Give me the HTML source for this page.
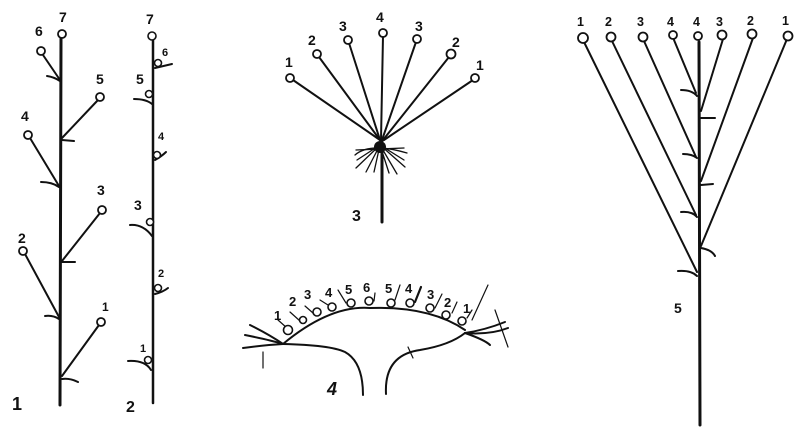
<!DOCTYPE html>
<html><head><meta charset="utf-8"><style>
html,body{margin:0;padding:0;background:#fff;width:804px;height:436px;overflow:hidden}
text{font-family:"Liberation Sans",sans-serif;font-weight:bold;fill:#111}
</style></head><body>
<svg width="804" height="436" viewBox="0 0 804 436" xmlns="http://www.w3.org/2000/svg">
<g stroke="#111" fill="none" stroke-linecap="round">
<!-- Fig 1 -->
<line x1="61" y1="38" x2="60" y2="405" stroke-width="3"/>
<g stroke-width="2">
<line x1="43" y1="55" x2="60" y2="80"/><path d="M47 76 Q54 77 60 81"/>
<line x1="98" y1="100" x2="62" y2="138"/><path d="M62 140 L74 141"/>
<line x1="30" y1="138" x2="59" y2="186"/><path d="M41 182 Q52 182 59 187"/>
<line x1="100" y1="213" x2="62" y2="261"/><path d="M62 262 L75 262"/>
<line x1="25" y1="254" x2="59" y2="317"/><path d="M45 316 Q53 315 59 319"/>
<line x1="99" y1="325" x2="62" y2="376"/><path d="M62 379 Q70 378 78 382"/>
</g>
<g stroke-width="1.8" fill="#fff">
<circle cx="62" cy="34" r="4"/><circle cx="41" cy="51" r="4"/><circle cx="100" cy="97" r="4"/>
<circle cx="28" cy="135" r="4"/><circle cx="102" cy="210" r="4"/><circle cx="23" cy="251" r="4"/><circle cx="101" cy="322" r="4"/>
</g>
<!-- Fig 2 -->
<line x1="153" y1="38" x2="153" y2="403" stroke-width="2.5"/>
<g stroke-width="2">
<path d="M155 68 L172 64"/><path d="M134 99 Q146 99 152 104"/>
<path d="M155 160 Q162 156 166 152"/><path d="M130 225 Q143 224 152 236"/>
<path d="M155 294 Q163 292 168 288"/><path d="M128 361 Q145 360 151 370"/>
</g>
<g stroke-width="1.6" fill="#fff">
<circle cx="152" cy="36" r="4"/><circle cx="158" cy="63" r="3.5"/><circle cx="149" cy="94" r="3.5"/>
<circle cx="157" cy="155" r="3.5"/><circle cx="150" cy="222" r="3.5"/><circle cx="158" cy="288" r="3.5"/><circle cx="148" cy="360" r="3.5"/>
</g>
<!-- Fig 3 -->
<g stroke-width="2">
<line x1="293" y1="80" x2="380" y2="140"/><line x1="319" y1="57" x2="380" y2="140"/>
<line x1="349" y1="43" x2="380" y2="140"/><line x1="383" y1="36" x2="381" y2="140"/>
<line x1="416" y1="42" x2="382" y2="140"/><line x1="449" y1="57" x2="383" y2="140"/>
<line x1="473" y1="80" x2="384" y2="140"/>
<line x1="382" y1="140" x2="382" y2="222" stroke-width="3"/>
</g>
<g stroke-width="1.3">
<path d="M356 150 L404 148"/><path d="M357 160 L380 145 L404 160"/><path d="M356 168 L380 145 L405 167"/>
<path d="M366 172 L380 145 L397 174"/><path d="M374 172 L380 145 L389 173"/><path d="M355 155 Q370 142 407 153"/>
</g>
<circle cx="380" cy="147" r="6" fill="#111" stroke="none"/>
<g stroke-width="1.8" fill="#fff">
<circle cx="290" cy="78" r="4"/><circle cx="317" cy="54" r="4"/><circle cx="348" cy="40" r="4"/>
<circle cx="383" cy="33" r="4"/><circle cx="417" cy="39" r="4"/><circle cx="451" cy="54" r="4.5"/><circle cx="475" cy="78" r="4"/>
</g>
<!-- Fig 4 -->
<g stroke-width="2">
<path d="M283 344 Q330 305 370 308 Q430 306 465 330"/>
<path d="M283 344 Q330 345 345 352 Q363 362 363 395"/>
<path d="M386 394 Q384 355 420 350 Q450 345 465 333"/>
<path d="M245 335 Q270 340 283 344"/><path d="M243 348 Q265 345 283 344"/><path d="M250 325 Q270 335 283 344"/>
<path d="M465 333 Q485 330 505 322"/><path d="M465 333 Q490 335 508 328"/><path d="M465 333 Q485 340 490 345"/>
</g>
<g stroke-width="1.2">
<line x1="263" y1="352" x2="263" y2="368"/><line x1="408" y1="347" x2="413" y2="358"/>
<line x1="488" y1="285" x2="472" y2="320"/><line x1="495" y1="310" x2="508" y2="347"/>
<line x1="278" y1="320" x2="287" y2="328"/><line x1="290" y1="312" x2="300" y2="321"/><line x1="305" y1="306" x2="313" y2="313"/>
<line x1="320" y1="300" x2="328" y2="305"/><line x1="338" y1="290" x2="346" y2="303"/><line x1="375" y1="293" x2="374" y2="301"/>
<line x1="400" y1="285" x2="395" y2="300"/><line x1="421" y1="287" x2="415" y2="302" stroke-width="2.2"/>
<line x1="442" y1="294" x2="435" y2="308"/><line x1="457" y1="302" x2="452" y2="313"/><line x1="472" y1="310" x2="467" y2="318"/>
</g>
<g stroke-width="1.6" fill="#fff">
<circle cx="288" cy="330" r="4.5"/><circle cx="303" cy="320" r="3.5"/><circle cx="317" cy="312" r="4"/><circle cx="332" cy="307" r="4"/>
<circle cx="351" cy="303" r="4"/><circle cx="369" cy="301" r="4"/><circle cx="391" cy="303" r="4"/><circle cx="410" cy="303" r="4"/>
<circle cx="430" cy="308" r="4"/><circle cx="446" cy="315" r="4"/><circle cx="462" cy="321" r="4"/>
</g>
<!-- Fig 5 -->
<line x1="699" y1="42" x2="700" y2="425" stroke-width="3"/>
<g stroke-width="2">
<line x1="584" y1="42" x2="697" y2="272"/><line x1="612" y1="41" x2="696" y2="215"/>
<line x1="644" y1="41" x2="696" y2="157"/><line x1="674" y1="40" x2="696" y2="93"/>
<line x1="723" y1="39" x2="701" y2="111"/><line x1="753" y1="38" x2="701" y2="181"/><line x1="787" y1="39" x2="701" y2="246"/>
<path d="M681 90 Q692 90 697 96"/><path d="M701 118 L715 118"/><path d="M683 154 Q692 154 697 158"/>
<path d="M701 185 L713 184"/><path d="M681 212 Q692 211 697 217"/><path d="M701 248 Q712 250 715 256"/><path d="M678 271 Q691 270 697 276"/>
</g>
<g stroke-width="1.8" fill="#fff">
<circle cx="583" cy="38" r="5"/><circle cx="611" cy="37" r="4.5"/><circle cx="643" cy="37" r="4.5"/><circle cx="673" cy="35" r="4"/>
<circle cx="698" cy="36" r="4"/><circle cx="722" cy="35" r="4.5"/><circle cx="752" cy="34" r="4.5"/><circle cx="788" cy="36" r="4.5"/>
</g>
</g>
<!-- labels -->
<g font-size="14">
<text x="59" y="22">7</text><text x="35" y="36">6</text><text x="96" y="84">5</text><text x="21" y="121">4</text>
<text x="97" y="195">3</text><text x="18" y="243">2</text><text x="12" y="410" font-size="18">1</text>
<text x="146" y="24">7</text><text x="136" y="84">5</text><text x="134" y="210">3</text><text x="126" y="412" font-size="16">2</text>
<text x="285" y="67">1</text><text x="308" y="45">2</text><text x="339" y="31">3</text><text x="376" y="22">4</text>
<text x="415" y="31">3</text><text x="452" y="47">2</text><text x="476" y="70">1</text><text x="352" y="221" font-size="16">3</text>
<text x="674" y="313">5</text>
</g>
<g font-size="11">
<text x="162" y="56">6</text><text x="158" y="140">4</text><text x="158" y="277" font-weight="normal">2</text><text x="140" y="352" font-weight="normal">1</text>
<text x="102" y="311" font-weight="normal" font-size="12">1</text>
</g>
<g font-size="12.5">
<text x="577" y="26">1</text><text x="605" y="26">2</text><text x="637" y="26">3</text><text x="667" y="26">4</text>
<text x="693" y="26">4</text><text x="716" y="26">3</text><text x="747" y="25">2</text><text x="782" y="25">1</text>
</g>
<g font-size="13" font-weight="normal">
<text x="274" y="320">1</text><text x="289" y="306">2</text><text x="304" y="299">3</text><text x="325" y="297">4</text>
<text x="345" y="294">5</text><text x="363" y="292">6</text><text x="385" y="293">5</text><text x="405" y="293">4</text>
<text x="427" y="299">3</text><text x="444" y="307">2</text><text x="463" y="313">1</text>
<text x="327" y="395" font-size="18" font-style="italic">4</text>
</g>
</svg>
</body></html>
